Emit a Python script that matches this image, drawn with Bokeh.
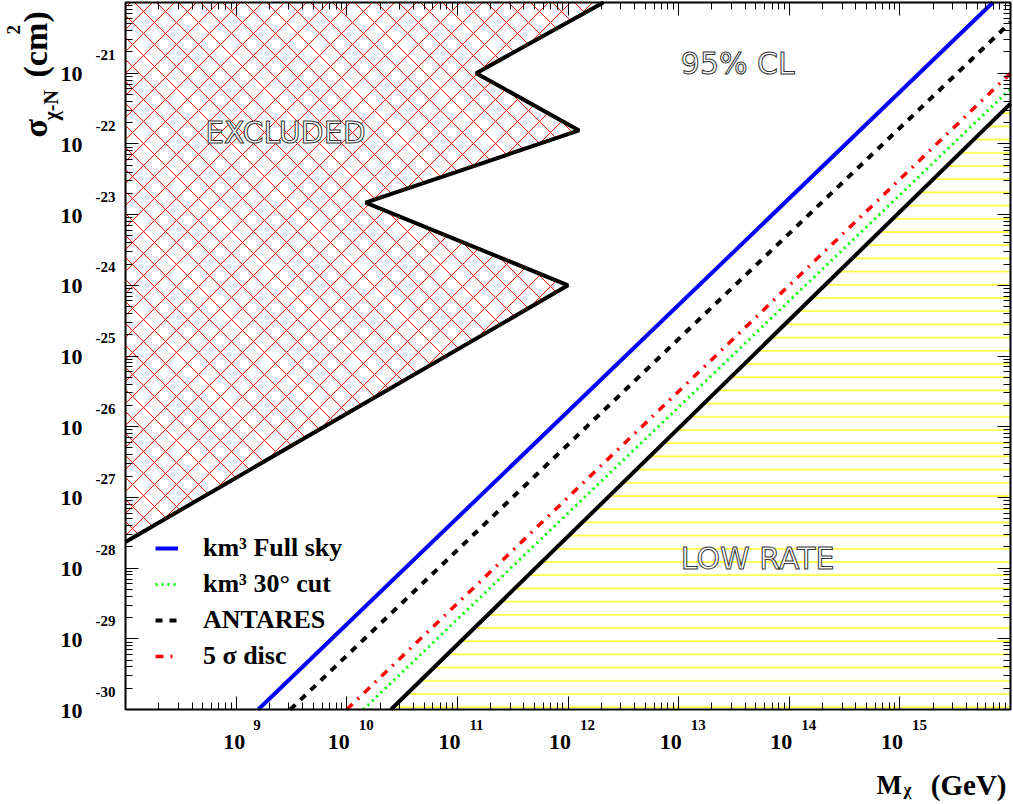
import math
from bokeh.plotting import figure
from bokeh.models import (Range1d, FixedTicker, LogAxis, CustomJSTickFormatter,
                          Legend, LegendItem, Label, LabelSet, ColumnDataSource)
from bokeh.embed import file_html
from bokeh.resources import INLINE

# ---------------- data ----------------
mass_limits = [1e8, 1e16]          # GeV, plotted range of the frame
sigma_limits = [1e-30, 1e-20]      # cm^2

# boundary of the EXCLUDED region (black thick line)
excluded_mass = [1e8, 1e12, 10**10.17, 10**12.10, 10**11.17, 10**12.32]
excluded_sigma = [10**-27.63, 1e-24, 10**-22.83, 10**-21.81, 10**-21.0, 1e-20]

# sensitivity lines
full_sky_mass = [10**9.20, 10**15.84]
full_sky_sigma = [1e-30, 1e-20]
cut30_mass = [10**10.15, 1e16]
cut30_sigma = [1e-30, 10**-21.22]
antares_mass = [10**9.49, 1e16]
antares_sigma = [1e-30, 10**-20.28]
disc5_mass = [1e10, 1e16]
disc5_sigma = [1e-30, 1e-21]
lowrate_mass = [10**10.40, 1e16]
lowrate_sigma = [1e-30, 10**-21.43]

legend_labels = ["km³ Full sky", "km³ 30° cut", "ANTARES", "5 σ disc"]
x_label_exps = [9, 10, 11, 12, 13, 14, 15]
y_label_exps = [-21, -22, -23, -24, -25, -26, -27, -28, -29, -30]

region_texts = ["EXCLUDED", "95% CL", "LOW RATE"]
region_text_mass = [10**8.72, 10**13.02, 10**13.02]
region_text_sigma = [10**-21.84, 10**-20.86, 10**-27.86]

# ---------------- layout (pixels) ----------------
W, H = 1012, 802
BOX_L, BOX_R, BOX_T, BOX_B = 125, 1010, 2, 709   # inner plot box in page px
lx0, lx1 = math.log10(mass_limits[0]), math.log10(mass_limits[1])
ly0, ly1 = math.log10(sigma_limits[0]), math.log10(sigma_limits[1])
ppx = (BOX_R - BOX_L) / (lx1 - lx0)
ppy = (BOX_B - BOX_T) / (ly1 - ly0)
xr = Range1d(10 ** (lx0 - BOX_L / ppx), 10 ** (lx1 + (W - BOX_R) / ppx))
yr = Range1d(10 ** (ly0 - (H - BOX_B) / ppy), 10 ** (ly1 + BOX_T / ppy))

p = figure(width=W, height=H, x_axis_type="log", y_axis_type="log",
           x_range=xr, y_range=yr, output_backend="svg", toolbar_location=None,
           min_border_left=0, min_border_right=0, min_border_top=0,
           min_border_bottom=0)
p.grid.visible = False
p.outline_line_color = None
p.background_fill_color = "white"

xmaj = [10.0**k for k in range(8, 17)]
xmin = [m * 10.0**k for k in range(8, 16) for m in range(2, 10)]
ymaj = [10.0**k for k in range(-30, -19)]
ymin = [m * 10.0**k for k in range(-30, -20) for m in range(2, 10)]

def style_axis(ax, major, minor, loc):
    ax.ticker = FixedTicker(ticks=major, minor_ticks=minor)
    ax.formatter = CustomJSTickFormatter(code="return ''")
    ax.fixed_location = loc
    ax.major_tick_in = 13
    ax.major_tick_out = 0
    ax.minor_tick_in = 7
    ax.minor_tick_out = 0
    ax.major_tick_line_color = "black"
    ax.minor_tick_line_color = "black"
    ax.axis_line_color = None
    ax.major_label_standoff = 0
    ax.major_label_text_font_size = "1px"

bottom_ax = p.below[0]
left_ax = p.left[0]
top_ax = LogAxis()
right_ax = LogAxis()
p.add_layout(top_ax, "above")
p.add_layout(right_ax, "right")
style_axis(bottom_ax, xmaj, xmin, sigma_limits[0])
style_axis(top_ax, xmaj, xmin, sigma_limits[1])
style_axis(left_ax, ymaj, ymin, mass_limits[0])
style_axis(right_ax, ymaj, ymin, mass_limits[1])

# ---------------- regions ----------------
ex_x = excluded_mass + [mass_limits[0]]
ex_y = excluded_sigma + [sigma_limits[1]]
p.patch(ex_x, ex_y, fill_color=None, line_color=None,
        hatch_pattern="x", hatch_color="#ff0000", hatch_scale=22, hatch_weight=1)
lr_x = lowrate_mass + [mass_limits[1]]
lr_y = lowrate_sigma + [sigma_limits[0]]
p.patch(lr_x, lr_y, fill_color=None, line_color=None,
        hatch_pattern="-", hatch_color="#ffff00", hatch_scale=13.2, hatch_weight=1.3)

p.line(excluded_mass, excluded_sigma, line_color="black", line_width=4)
p.line(lowrate_mass, lowrate_sigma, line_color="black", line_width=4)

r_full = p.line(full_sky_mass, full_sky_sigma, line_color="#0000ff", line_width=4)
r_cut = p.line(cut30_mass, cut30_sigma, line_color="#00ff00", line_width=3,
               line_dash="2 4")
r_ant = p.line(antares_mass, antares_sigma, line_color="black", line_width=4,
               line_dash="7 7")
r_disc = p.line(disc5_mass, disc5_sigma, line_color="#ff0000", line_width=3.5,
                line_dash="8 7 2 7")

# frame box
p.quad(left=[mass_limits[0]], right=[mass_limits[1]], bottom=[sigma_limits[0]],
       top=[sigma_limits[1]], fill_color=None, line_color="black", line_width=2)

legend = Legend(items=[LegendItem(label=l, renderers=[r]) for l, r in
                       zip(legend_labels, [r_full, r_cut, r_ant, r_disc])],
                location=(155, H - 671), glyph_width=23, glyph_height=30,
                label_height=30, label_standoff=25, spacing=6, padding=0,
                margin=0, border_line_alpha=0, background_fill_alpha=0,
                label_text_font="Liberation Serif", label_text_font_style="bold",
                label_text_font_size="26px", label_text_color="black")
p.add_layout(legend)

# ---------------- region texts ----------------
has_outline = "text_outline_color" in Label.properties()
for t, xm, ys in zip(region_texts, region_text_mass, region_text_sigma):
    kw = dict(x=xm, y=ys, text=t, text_font="DejaVu Sans", text_font_size="30px",
              text_align="left", text_baseline="alphabetic")
    if has_outline:
        kw.update(text_color="white", text_outline_color="#333333")
    else:
        kw.update(text_color="#444444")
    p.add_layout(Label(**kw))

# ---------------- tick labels ----------------
xs = ColumnDataSource(dict(x=[10.0**k for k in x_label_exps], y=[1e-30] * len(x_label_exps),
                           base=["10"] * len(x_label_exps),
                           ex=[str(k) for k in x_label_exps],
                           bo=[9 if k < 10 else 3 for k in x_label_exps],
                           eo=[17 if k < 10 else 12 for k in x_label_exps]))
p.add_layout(LabelSet(x="x", y="y", text="base", source=xs, x_offset="bo", y_offset=-39,
                      text_align="right", text_baseline="alphabetic",
                      text_font="Liberation Serif", text_font_style="bold",
                      text_font_size="22px", text_color="black"))
p.add_layout(LabelSet(x="x", y="y", text="ex", source=xs, x_offset="eo", y_offset=-20,
                      text_align="left", text_baseline="alphabetic",
                      text_font="Liberation Serif", text_font_style="bold",
                      text_font_size="15px", text_color="black"))

ys_src = ColumnDataSource(dict(x=[1e8] * len(y_label_exps),
                               y=[10.0**k for k in y_label_exps],
                               base=["10"] * len(y_label_exps),
                               ex=[str(k) for k in y_label_exps]))
p.add_layout(LabelSet(x="x", y="y", text="base", source=ys_src, x_offset=-43, y_offset=-8,
                      text_align="right", text_baseline="alphabetic",
                      text_font="Liberation Serif", text_font_style="bold",
                      text_font_size="22px", text_color="black"))
p.add_layout(LabelSet(x="x", y="y", text="ex", source=ys_src, x_offset=-10, y_offset=13,
                      text_align="right", text_baseline="alphabetic",
                      text_font="Liberation Serif", text_font_style="bold",
                      text_font_size="15px", text_color="black"))

# ---------------- axis titles ----------------
def page_label(text, px, py, size, angle=0.0, align="left"):
    # px, py: page pixels; anchored to the inner box's top-left corner
    p.add_layout(Label(x=mass_limits[0], y=sigma_limits[1], x_offset=px - BOX_L,
                       y_offset=-(py - BOX_T), text=text, angle=angle,
                       text_align=align, text_baseline="alphabetic",
                       text_font="Liberation Serif", text_font_style="bold",
                       text_font_size=size, text_color="black"))

rot = math.pi / 2
page_label("σ", 35, 137, "34px", rot)
page_label("χ-N", 50, 120, "20px", rot)
page_label("(cm", 35, 77, "34px", rot)
page_label("2", 13, 34, "19px", rot)
page_label(")", 35, 22, "34px", rot)

page_label("M", 876, 784, "27px")
page_label("χ", 903, 789, "17px")
page_label("(GeV)", 1006, 784, "29px", align="right")

open("out.html", "w").write(file_html(p, INLINE))
